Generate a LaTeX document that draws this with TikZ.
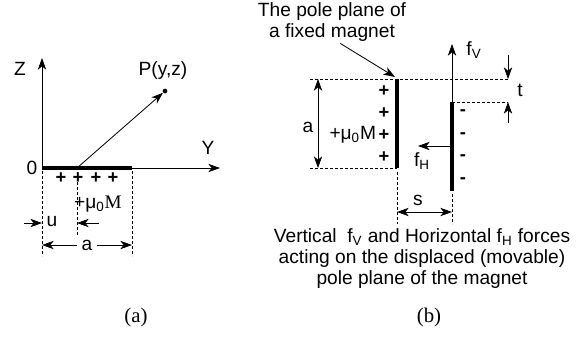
\documentclass[tikz,border=0pt]{standalone}
\usepackage{fontspec}
\setmainfont{Liberation Sans}
\newfontfamily\serifpart{Liberation Serif}
\usetikzlibrary{positioning, arrows.meta}

\begin{document}
\begin{tikzpicture}[x=0.6pt, y=-0.6pt,
          tip/.style={-{Stealth[length=7pt, width=5pt, inset=2pt]}, line width=0.5pt},
          dim/.style={{Stealth[length=7pt, width=5pt, inset=2pt]}-{Stealth[length=7pt, width=5pt, inset=2pt]}, line width=0.5pt},
          pole/.style={line width=2.4pt},
          guide/.style={dash pattern=on 1.8pt off 1.2pt, line width=0.45pt},
          lbl/.style={font=\fontsize{11.5}{12.6}\selectfont, inner sep=1pt},
          sign/.style={font=\fontsize{11}{12}\selectfont\bfseries, inner sep=0pt},
          tag/.style={font=\serifpart\fontsize{12.5}{14}\selectfont}
        ]
        \useasboundingbox (0,0) rectangle (581,337);

        % (a) single pole plane on the Y axis
        \coordinate (O)     at (42,168);
        \coordinate (ztop)  at (42,58);
        \coordinate (yend)  at (220,168);
        \coordinate (bar)   at (132,168);
        \coordinate (src)   at (77,168);
        \node[circle, fill, inner sep=1pt] (P) at (165,91) {};
        \draw[tip] (O) -- (ztop);
        \draw[tip] (O) -- (yend);
        \draw[pole] (O) -- (bar);
        \draw[tip] (src) -- (P);
        \node[lbl] (zlbl) at (20,69)  {Z};
        \node[lbl] (ylbl) at (208,148) {Y};
        \node[lbl] (olbl) at (32,168) {0};
        \node[lbl] (plbl) at (163,71) {P(y,z)};
        \foreach \x in {61,78,96,113}
            \node[sign] at (\x,178) {+};
        \node[lbl] (mag) at (98,204) {+μ\textsubscript{0}{\serifpart M}};

        \coordinate (g1a) at (42,171);  \coordinate (g1b) at (42,256);
        \coordinate (g2a) at (77,172);  \coordinate (g2b) at (77,236);
        \coordinate (g3a) at (132,171); \coordinate (g3b) at (132,256);
        \draw[guide] (g1a) -- (g1b);
        \draw[guide] (g2a) -- (g2b);
        \draw[guide] (g3a) -- (g3b);

        \coordinate (ul) at (24,223);  \coordinate (ulx) at (42,223);
        \coordinate (ur) at (99,223);  \coordinate (urx) at (77,223);
        \draw[tip] (ul) -- (ulx);
        \draw[tip] (ur) -- (urx);
        \node[lbl] (ulbl) at (52,222) {u};
        \coordinate (al) at (42,245);  \coordinate (ar) at (132,245);
        \draw[dim] (al) -- node[lbl, fill=white, inner sep=3pt] (albl) {a} (ar);

        \node[tag] (capa) at (136,317) {(a)};

        % (b) fixed and displaced pole planes
        \node[lbl, align=center] (title) at (332,22) {The pole plane of\\a fixed magnet};
        \coordinate (fixtop) at (397,79);
        \coordinate (fixbot) at (397,168);
        \draw[tip] ([xshift=5pt]title.south) -- ([shift={(-2,-2)}]fixtop);
        \draw[pole] (fixtop) -- (fixbot);

        \coordinate (h1a) at (310,79);  \coordinate (h1b) at (508,79);
        \coordinate (h2a) at (310,168);
        \draw[guide] (h1a) -- (h1b);
        \draw[guide] (h2a) -- (fixbot);
        \coordinate (at) at (318,79);  \coordinate (ab) at (318,168);
        \draw[dim] (at) -- (ab);
        \node[lbl] (a2lbl) at (308,127) {a};
        \foreach \y in {91,113,135,157}
            \node[sign] at (384,\y) {+};
        \node[lbl, anchor=east] (mag2) at (378,135) {+μ\textsubscript{0}M};

        \coordinate (movtop) at (452,102);
        \coordinate (movbot) at (452,191);
        \coordinate (tend)   at (508,102);
        \draw[guide] (movtop) -- (tend);
        \draw[pole] (movtop) -- (movbot);
        \foreach \y in {113,136,158,181}
            \node[sign] at (463,\y) {-};

        \coordinate (fv) at (452,44);
        \draw[tip] (movtop) -- (fv);
        \node[lbl] (fvlbl) at (474,50) {f\textsubscript{V}};
        \coordinate (fhs) at (452,146);
        \coordinate (fh)  at (418,146);
        \draw[tip] (fhs) -- (fh);
        \node[lbl] (fhlbl) at (422,161) {f\textsubscript{H}};

        \coordinate (s1a) at (397,172); \coordinate (s1b) at (397,224);
        \coordinate (s2a) at (452,194); \coordinate (s2b) at (452,224);
        \draw[guide] (s1a) -- (s1b);
        \draw[guide] (s2a) -- (s2b);
        \coordinate (sl) at (397,212);  \coordinate (sr) at (452,212);
        \draw[dim] (sl) -- (sr);
        \node[lbl] (slbl) at (418,200) {s};

        \coordinate (t1) at (508,55);
        \coordinate (t2) at (508,123);
        \draw[tip] (t1) -- (h1b);
        \draw[tip] (t2) -- (tend);
        \node[lbl] (tlbl) at (520,90) {t};

        \node[lbl, align=center] (note) at (422,259)
            {Vertical\ \ f\textsubscript{V} and Horizontal f\textsubscript{H} forces\\
             acting on the displaced (movable)\\
             pole plane of the magnet};
        \node[tag] (capb) at (429,317) {(b)};
      \end{tikzpicture}
\end{document}
